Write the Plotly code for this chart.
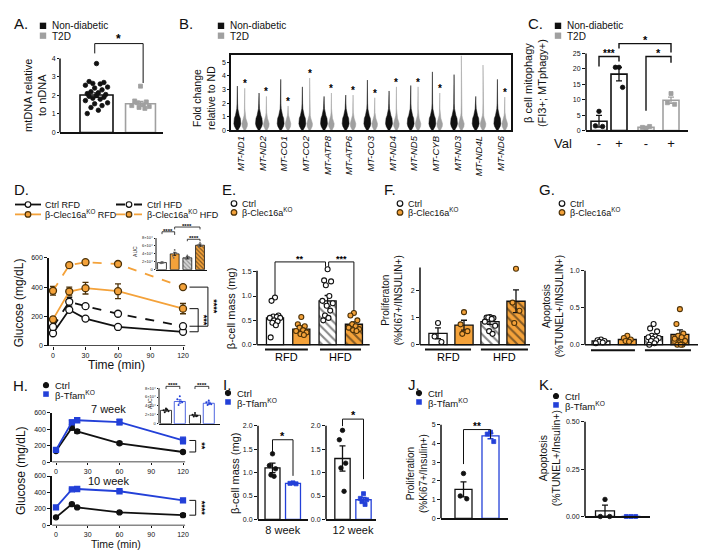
import plotly.graph_objects as go

W, H = 715, 550
FONT = "Liberation Sans, Arial, sans-serif"
BLACK = "#111111"
ORANGE = "#f4a23a"
KO_EDGE = "#4d3208"
GRAY = "#a0a0a0"
BLUE = "#2340d8"

# ================= DATA =================
# A
a_means = [2.02, 1.55]
a_sem = [0.12, 0.13]
a_nd_points = [3.72, 2.75, 2.7, 2.65, 2.62, 2.55, 2.45, 2.4, 2.3, 2.2, 2.15, 2.1, 2.05, 2.0,
               1.95, 1.9, 1.85, 1.8, 1.72, 1.6, 1.55, 1.45, 1.35, 1.2, 1.02]
a_t2d_points = [2.5, 1.7, 1.65, 1.6, 1.5, 1.45, 1.4, 1.35, 1.3]

# B
b_genes = ["MT-ND1", "MT-ND2", "MT-CO1", "MT-CO2", "MT-ATP8", "MT-ATP6", "MT-CO3",
           "MT-ND4", "MT-ND5", "MT-CYB", "MT-ND3", "MT-ND4L", "MT-ND6"]
b_nd_max = [3.26, 2.75, 3.75, 3.2, 2.5, 2.6, 3.7, 2.9, 3.3, 4.3, 4.1, 2.5, 3.75]
b_t2d_max = [3.1, 2.5, 1.8, 3.85, 2.75, 2.6, 2.4, 3.2, 3.2, 2.75, 5.5, 4.8, 2.45]
b_sig = [1, 1, 1, 1, 1, 1, 1, 1, 1, 1, 0, 0, 1]
b_levels = [0, 0.15, 0.3, 0.5, 0.7, 0.9, 1.1, 1.3, 1.6, 2.0]
b_nd_density = [0.15, 0.5, 0.8, 1.0, 1.0, 0.85, 0.55, 0.3, 0.15, 0.08]
b_t2d_density = [0.2, 0.55, 0.9, 1.0, 0.7, 0.4, 0.22, 0.12, 0.07, 0.05]

# C
c_labels = ["-", "+", "-", "+"]
c_means = [3.0, 18.3, 1.0, 9.8]
c_sem = [1.9, 2.2, 0.3, 1.0]
c_points = [[6.2, 1.5, 1.3], [20.5, 20.5, 14.0], [0.7, 1.0, 1.3], [12.0, 9.0, 8.5]]

# D
d_times = [0, 15, 30, 60, 120]
d_ctrl_rfd = [85, 245, 185, 128, 95]
d_ctrl_rfd_sem = [6, 8, 8, 6, 6]
d_ctrl_hfd = [128, 300, 270, 218, 133]
d_ctrl_hfd_sem = [10, 30, 10, 8, 8]
d_ko_rfd = [180, 370, 393, 372, 253]
d_ko_rfd_sem = [15, 30, 40, 50, 35]
d_ko_hfd = [375, 550, 570, 558, 400]
d_ko_hfd_sem = [30, 8, 8, 8, 10]
d_auc = [1.8, 4.0, 3.0, 6.2]          # x10^4
d_auc_sem = [0.15, 0.4, 0.3, 0.3]

# E
e_means = [0.55, 0.32, 0.90, 0.42]
e_sem = [0.05, 0.04, 0.11, 0.05]
e_points = [[0.97, 0.90, 0.6, 0.58, 0.57, 0.55, 0.55, 0.5, 0.48, 0.45, 0.4, 0.15],
            [0.57, 0.42, 0.38, 0.35, 0.3, 0.28, 0.25, 0.22, 0.2],
            [1.55, 1.32, 1.3, 1.22, 1.0, 0.9, 0.85, 0.8, 0.7, 0.6, 0.55, 0.5],
            [0.65, 0.6, 0.5, 0.42, 0.38, 0.35, 0.32, 0.3, 0.28]]

# F
f_means = [0.42, 0.72, 0.85, 1.6]
f_sem = [0.2, 0.18, 0.1, 0.42]
f_points = [[0.8, 0.3, 0.1], [1.2, 0.75, 0.5, 0.4],
            [1.02, 1.0, 0.98, 1.0, 0.95, 0.85, 0.7, 0.5, 0.4], [2.8, 1.55, 1.25, 0.8]]

# G
g_means = [0.05, 0.07, 0.11, 0.14]
g_sem = [0.01, 0.015, 0.025, 0.06]
g_points = [[0.07, 0.06, 0.05, 0.04, 0.03, 0.02], [0.12, 0.09, 0.07, 0.05, 0.04],
            [0.28, 0.22, 0.18, 0.12, 0.11, 0.1, 0.09, 0.08, 0.06, 0.05, 0.02, 0.0],
            [0.48, 0.28, 0.15, 0.12, 0.1, 0.08, 0.05, 0.02, 0.0, 0.0, 0.0]]

# H
h_times = [0, 15, 20, 60, 120]
h_ctrl_7 = [135, 420, 375, 230, 124]
h_ctrl_7_sem = [8, 30, 20, 15, 8]
h_ko_7 = [150, 485, 510, 488, 264]
h_ko_7_sem = [10, 25, 25, 35, 40]
h_ctrl_10 = [98, 258, 218, 158, 124]
h_ctrl_10_sem = [5, 10, 8, 8, 18]
h_ko_10 = [218, 438, 442, 415, 304]
h_ko_10_sem = [20, 10, 8, 10, 20]
h_auc = [3.0, 5.0, 1.9, 4.6]          # x10^4
h_auc_sem = [0.2, 0.4, 0.15, 0.3]

# I
i8_means = [1.1, 0.77]
i8_sem = [0.1, 0.01]
i8_points = [[1.4, 1.15, 1.08, 0.95, 0.92], [0.78, 0.77, 0.76]]
i12_means = [1.3, 0.42]
i12_sem = [0.27, 0.05]
i12_points = [[1.9, 1.7, 1.2, 1.1, 0.6], [0.55, 0.45, 0.42, 0.38, 0.32]]

# J
j_means = [1.55, 4.4]
j_sem = [0.4, 0.15]
j_points = [[2.4, 1.2, 1.05], [4.6, 4.5, 4.1]]

# K
k_means = [0.03, 0.0]
k_sem = [0.03, 0.0]
k_points = [[0.09, 0.0, 0.0], [0.0, 0.0, 0.0]]

# ================= HELPERS =================
fig = go.Figure()
L = {}
shapes = []
annos = []
JIT = [0, -0.6, 0.6, -0.3, 0.3, -0.9, 0.9, -0.15, 0.45, -0.45, 0.15, -0.75, 0.75]


def s(n):
    return "" if n == 1 else str(n)


def setup(n, xpx, xcal, ypx, ycal, xkw=None, ykw=None):
    p0, v0, p1, v1 = xcal
    k = (v1 - v0) / (p1 - p0)
    xr = [v0 + (xpx[0] - p0) * k, v0 + (xpx[1] - p0) * k]
    q0, w0, q1, w1 = ycal
    m = (w1 - w0) / (q1 - q0)
    yr = [w0 + (ypx[0] - q0) * m, w0 + (ypx[1] - q0) * m]
    base = dict(showgrid=False, zeroline=False, showline=False, ticks="", showticklabels=False,
                fixedrange=True, linecolor=BLACK, linewidth=1.5, tickcolor=BLACK,
                ticklen=3, tickwidth=1,
                tickfont=dict(size=7, family=FONT, color=BLACK))
    xa = dict(base, domain=[xpx[0] / W, xpx[1] / W], range=xr, anchor="y" + s(n))
    ya = dict(base, domain=[1 - ypx[0] / H, 1 - ypx[1] / H], range=yr, anchor="x" + s(n))
    xa.update(xkw or {})
    ya.update(ykw or {})
    L["xaxis" + s(n)] = xa
    L["yaxis" + s(n)] = ya


def yticks(vals, text=None, size=7):
    d = dict(ticks="outside", showticklabels=True, tickvals=vals, tickfont=dict(size=size, family=FONT, color=BLACK))
    if text is not None:
        d["ticktext"] = text
    return d


def yline(n, y0, y1, w=1.5):
    shapes.append(dict(type="line", xref="x%s domain" % s(n), x0=0, x1=0, yref="y" + s(n),
                       y0=y0, y1=y1, line=dict(color=BLACK, width=w)))


def xline(n, x0, x1, y=0, w=1.5, color=BLACK):
    shapes.append(dict(type="line", xref="x" + s(n), x0=x0, x1=x1, yref="y" + s(n),
                       y0=y, y1=y, line=dict(color=color, width=w)))


def ax(n):
    return dict(xaxis="x" + s(n), yaxis="y" + s(n))


def bar(n, x, v, e, fill, edge, width, pattern=None, lw=1.3, ecol=BLACK, ew=3, eth=1.3):
    mk = dict(color=fill, line=dict(color=edge, width=lw))
    if pattern:
        mk["pattern"] = pattern
    fig.add_trace(go.Bar(x=[x], y=[v], width=width, marker=mk,
                         error_y=dict(type="data", array=[e], color=ecol, thickness=eth, width=ew),
                         showlegend=False, hoverinfo="skip", **ax(n)))


def pts(n, x, vals, spread, symbol="circle", size=4, fill=BLACK, edge=BLACK, lw=0.8):
    xs = [x + JIT[i % len(JIT)] * spread for i in range(len(vals))]
    fig.add_trace(go.Scatter(x=xs, y=vals, mode="markers",
                             marker=dict(symbol=symbol, size=size, color=fill, line=dict(color=edge, width=lw)),
                             showlegend=False, hoverinfo="skip", cliponaxis=False, **ax(n)))


def bracket(n, xa, xb, y, la, lb, text, fs=9, w=1.0):
    fig.add_trace(go.Scatter(x=[xa, xa, xb, xb], y=[la, y, y, lb], mode="lines",
                             line=dict(color=BLACK, width=w), showlegend=False, hoverinfo="skip", **ax(n)))
    annos.append(dict(x=(xa + xb) / 2, y=y, xref="x" + s(n), yref="y" + s(n), text="<b>%s</b>" % text,
                      showarrow=False, yanchor="bottom", yshift=-4, font=dict(size=fs, family=FONT, color="black")))


def ptext(x, y, text, size, xanchor="left", angle=0, color=BLACK):
    annos.append(dict(x=x / W, y=1 - y / H, xref="paper", yref="paper", text=text, showarrow=False,
                      xanchor=xanchor, yanchor="middle", textangle=angle,
                      font=dict(size=size, family=FONT, color=color)))


def dtext(n, x, y, text, size, angle=0, xanchor="center"):
    annos.append(dict(x=x, y=y, xref="x" + s(n), yref="y" + s(n), text=text, showarrow=False,
                      xanchor=xanchor, yanchor="middle", textangle=angle,
                      font=dict(size=size, family=FONT, color="black")))


def key_sq(x, y, color, a=3.2):
    shapes.append(dict(type="rect", xref="paper", yref="paper", x0=(x - a) / W, x1=(x + a) / W,
                       y0=1 - (y + a) / H, y1=1 - (y - a) / H, fillcolor=color, line=dict(width=0)))


def key_circ(x, y, fill, edge, r=2.8, lw=1.2):
    shapes.append(dict(type="circle", xref="paper", yref="paper", x0=(x - r) / W, x1=(x + r) / W,
                       y0=1 - (y + r) / H, y1=1 - (y - r) / H, fillcolor=fill, line=dict(color=edge, width=lw)))


def key_line(x0, x1, y, color, dash="solid", lw=1.8):
    shapes.append(dict(type="line", xref="paper", yref="paper", x0=x0 / W, x1=x1 / W,
                       y0=1 - y / H, y1=1 - y / H, line=dict(color=color, width=lw, dash=dash)))


def curve(n, t, v, e, color, dash, mfill, medge, symbol="circle", size=7, lw=1.8):
    fig.add_trace(go.Scatter(x=t, y=v, mode="lines+markers",
                             line=dict(color=color, width=lw, dash=dash),
                             marker=dict(symbol=symbol, size=size, color=mfill, line=dict(color=medge, width=1.3)),
                             error_y=dict(type="data", array=e, color=medge, thickness=1.3, width=3),
                             showlegend=False, hoverinfo="skip", cliponaxis=False, **ax(n)))


KO = "β-Clec16a<sup>KO</sup>"
TF = "β-Tfam<sup>KO</sup>"

# ================= A =================
setup(1, (52, 155), (88.5, 0, 132.5, 1), (122, 25), (122, 0, 47, 4),
      xkw=dict(showline=True), ykw=yticks([0, 1, 2, 3, 4]))
L["yaxis"].update(ticklen=2)
yline(1, 0, 4)
bar(1, 0, a_means[0], a_sem[0], "white", BLACK, 0.75, lw=1.6)
bar(1, 1, a_means[1], a_sem[1], "white", GRAY, 0.68, lw=1.6, ecol=GRAY)
pts(1, 0, a_nd_points, 0.28, size=4.5)
pts(1, 1, a_t2d_points, 0.22, symbol="square", size=4, fill=GRAY, edge=GRAY)
bracket(1, -0.04, 1.06, 4.8, 4.27, 2.67, "*", fs=12)
ptext(4, 12, "A.", 15)
key_sq(35, 14, BLACK)
ptext(42, 14, "Non-diabetic", 10)
key_sq(35, 24, GRAY)
ptext(42, 24.5, "T2D", 10)
ptext(27, 85, "mtDNA relative<br>to nDNA", 11, xanchor="center", angle=-90)

# ================= B =================
setup(2, (223, 503), (233, 0, 254.67, 1), (120, 44), (120, 0, 51, 5),
      xkw=dict(showline=True, mirror=True, tickvals=list(range(len(b_genes))),
               ticktext=["<i>%s</i>" % g for g in b_genes], showticklabels=True, tickangle=-90,
               tickfont=dict(size=9.5, family=FONT, color=BLACK)),
      ykw=dict(yticks([0, 1, 2, 3, 4, 5]), showline=True, mirror=True, ticklen=2))
for gi in range(len(b_genes)):
    for off, mx, dens, hw, col in ((-0.17, b_nd_max[gi], b_nd_density, 0.16, BLACK),
                                   (0.17, b_t2d_max[gi], b_t2d_density, 0.13, GRAY)):
        lv = [l for l in b_levels if l < mx] + [mx]
        dv = [dens[i] for i in range(len(lv) - 1)] + [0.02]
        xs = [gi + off - d * hw for d in dv] + [gi + off + d * hw for d in reversed(dv)]
        ys = lv + list(reversed(lv))
        fig.add_trace(go.Scatter(x=xs, y=ys, mode="lines", fill="toself", fillcolor=col,
                                 line=dict(color=col, width=0.5), showlegend=False, hoverinfo="skip", **ax(2)))
    if b_sig[gi]:
        annos.append(dict(x=gi + 0.17, y=b_t2d_max[gi], xref="x2", yref="y2", text="<b>*</b>", showarrow=False,
                          yanchor="bottom", yshift=-3, font=dict(size=10, family=FONT, color="black")))
ptext(169, 12, "B.", 15)
key_sq(213, 14, BLACK)
ptext(220, 14, "Non-diabetic", 10)
key_sq(213, 24, GRAY)
ptext(220, 24.5, "T2D", 10)
ptext(196, 87, "Fold change<br>relative to ND", 10.5, xanchor="center", angle=-90)

# ================= C =================
c_pos = [0, 1, 2.35, 3.6]
setup(3, (578, 680), (591, 0, 611, 1), (120, 18), (120, 0, 42, 25),
      xkw=dict(showline=True, tickvals=c_pos, ticktext=c_labels, showticklabels=True,
               tickfont=dict(size=13, family=FONT, color=BLACK)),
      ykw=yticks([0, 5, 10, 15, 20, 25]))
yline(3, 0, 25)
for i in range(4):
    edge = BLACK if i < 2 else GRAY
    bar(3, c_pos[i], c_means[i], c_sem[i], "white", edge, 0.8, lw=1.6, ecol=edge)
    if i < 2:
        pts(3, c_pos[i], c_points[i], 0.3, size=4.5)
    else:
        pts(3, c_pos[i], c_points[i], 0.3, symbol="square", size=4, fill=GRAY, edge=GRAY)
bracket(3, c_pos[0], c_pos[1], 24, 20.8, 22.4, "***", fs=10, w=1.4)
bracket(3, c_pos[2], c_pos[3], 24, 6.4, 22.0, "*", fs=11, w=1.4)
bracket(3, c_pos[1], c_pos[3], 28.2, 26.6, 25.3, "*", fs=11, w=1.4)
ptext(518, 12, "C.", 15)
key_sq(550, 14, BLACK)
ptext(557, 14, "Non-diabetic", 10)
key_sq(550, 24, GRAY)
ptext(557, 24.5, "T2D", 10)
ptext(544, 133, "Val", 13)
ptext(527, 72, "β cell mitophagy<br>(FI3+; MTphagy+)", 11, xanchor="center", angle=-90)

# ================= D =================
setup(4, (41, 214), (45, 0, 175, 120), (338, 249), (338, 0, 249, 600),
      xkw=dict(yticks([0, 30, 60, 90, 120])),
      ykw=dict(yticks([0, 200, 400, 600]), showline=True))
xline(4, -3.5, 122)
curve(4, d_times, d_ctrl_rfd, d_ctrl_rfd_sem, BLACK, "solid", "white", BLACK)
curve(4, d_times, d_ctrl_hfd, d_ctrl_hfd_sem, BLACK, "dash", "white", BLACK)
curve(4, d_times, d_ko_rfd, d_ko_rfd_sem, ORANGE, "solid", ORANGE, KO_EDGE)
curve(4, d_times, d_ko_hfd, d_ko_hfd_sem, ORANGE, "dash", ORANGE, KO_EDGE)
fig.add_trace(go.Scatter(x=[126, 134, 134, 126], y=[d_ko_rfd[-1], d_ko_rfd[-1], d_ctrl_rfd[-1], d_ctrl_rfd[-1]],
                         mode="lines", line=dict(color=BLACK, width=1), showlegend=False, hoverinfo="skip", **ax(4)))
fig.add_trace(go.Scatter(x=[126, 143, 143, 126], y=[d_ko_hfd[-1], d_ko_hfd[-1], d_ctrl_hfd[-1], d_ctrl_hfd[-1]],
                         mode="lines", line=dict(color=BLACK, width=1), showlegend=False, hoverinfo="skip", **ax(4)))
dtext(4, 139, (d_ko_rfd[-1] + d_ctrl_rfd[-1]) / 2, "<b>***</b>", 9, angle=90)
dtext(4, 149, (d_ko_hfd[-1] + d_ctrl_hfd[-1]) / 2, "<b>****</b>", 9, angle=90)
ptext(4, 180, "D.", 15)
key_line(7, 33, 195, BLACK)
key_circ(20, 195, "white", BLACK)
ptext(35, 195, "Ctrl RFD", 9)
key_line(108, 134, 195, BLACK, dash="dash")
key_circ(121, 195, "white", BLACK)
ptext(137, 195, "Ctrl HFD", 9)
key_line(7, 33, 205, ORANGE)
key_circ(20, 205, ORANGE, KO_EDGE)
ptext(35, 205, KO + " RFD", 9)
key_line(108, 134, 205, ORANGE, dash="dash")
key_circ(121, 205, ORANGE, KO_EDGE)
ptext(137, 205, KO + " HFD", 9)
ptext(108, 358, "Time (min)", 12, xanchor="center")
ptext(11, 295, "Glucose (mg/dL)", 12, xanchor="center", angle=-90)

# D inset (AUC)
setup(5, (148, 199), (154, 0, 166.67, 1), (261, 212), (261, 0, 229, 8),
      ykw=yticks([0, 2, 4, 6, 8], ["0", "2×10⁴", "4×10⁴", "6×10⁴", "8×10⁴"], size=4),
      xkw=dict(showline=True, linewidth=1))
L["yaxis5"].update(ticklen=1.5)
yline(5, 0, 8, w=1)
d_aucp = [[1.9, 1.7, 1.8, 1.6], [5.0, 3.5, 4.2, 3.0], [3.6, 2.8, 3.2], [6.8, 6.3, 6.0, 5.8]]
bar(5, 0, d_auc[0], d_auc_sem[0], "white", BLACK, 0.7, lw=0.8, ew=1.5, eth=0.8)
bar(5, 1, d_auc[1], d_auc_sem[1], ORANGE, BLACK, 0.7, lw=0.8, ew=1.5, eth=0.8)
bar(5, 2, d_auc[2], d_auc_sem[2], "#d6d6d6", BLACK, 0.7, lw=0.8, ew=1.5, eth=0.8,
    pattern=dict(shape="\\", fgcolor="#555555", size=3, solidity=0.4))
bar(5, 3, d_auc[3], d_auc_sem[3], ORANGE, BLACK, 0.7, lw=0.8, ew=1.5, eth=0.8,
    pattern=dict(shape="\\", fgcolor=BLACK, size=3, solidity=0.4))
for i in range(4):
    pts(5, i, d_aucp[i], 0.25, size=1.8, fill="#666666", edge="#666666", lw=0)
bracket(5, 0, 1, 9.6, 9.0, 8.8, "****", fs=6, w=0.8)
bracket(5, 1, 3, 10.8, 10.2, 10.2, "****", fs=6, w=0.8)
bracket(5, 2, 3, 7.7, 7.2, 7.2, "****", fs=6, w=0.8)
ptext(127, 243, "AUC", 5, xanchor="center", angle=-90)

# ================= E =================
e_fill = ["white", ORANGE, "white", ORANGE]
e_pat = [None, None, dict(shape="\\", fgcolor=BLACK, size=6, solidity=0.35),
         dict(shape="\\", fgcolor=BLACK, size=6, solidity=0.35)]
setup(6, (249, 362), (267, 0, 293.3, 1), (350, 245), (337, 0, 263, 1.5), ykw=yticks([0, 0.5, 1.0, 1.5], ["0.0", "0.5", "1.0", "1.5"]))
yline(6, 0, 1.52)
xline(6, -0.68, 3.6)
for i in range(4):
    bar(6, i, e_means[i], e_sem[i], e_fill[i], BLACK, 0.65, pattern=e_pat[i])
    pts(6, i, e_points[i], 0.22, size=5, fill="white" if i % 2 == 0 else ORANGE,
        edge=BLACK if i % 2 == 0 else KO_EDGE, lw=1.1)
bracket(6, 0, 1.92, 1.70, 1.0, 1.6, "**", fs=9)
bracket(6, 2.04, 3.0, 1.70, 1.6, 0.7, "***", fs=9)
xline(6, -0.38, 1.25, y=-0.10, w=2)
xline(6, 1.71, 3.27, y=-0.10, w=2)
dtext(6, 0.45, -0.245, "RFD", 11)
dtext(6, 2.5, -0.245, "HFD", 11)
ptext(212, 180, "E.", 15)
key_circ(226, 194, "white", BLACK)
ptext(232, 194, "Ctrl", 9)
key_circ(226, 203, ORANGE, KO_EDGE)
ptext(232, 203, KO, 9)
ptext(223, 300, "β-cell mass (mg)", 11, xanchor="center", angle=-90)

# ================= F =================
setup(7, (412, 522), (430, 0, 456, 1), (350, 255), (337, 0, 282, 2), ykw=yticks([0, 1, 2]))
yline(7, 0, 2.84)
xline(7, -0.69, 3.54)
for i in range(4):
    bar(7, i, f_means[i], f_sem[i], e_fill[i], BLACK, 0.7, pattern=e_pat[i])
    pts(7, i, f_points[i], 0.22, size=5, fill="white" if i % 2 == 0 else ORANGE,
        edge=BLACK if i % 2 == 0 else KO_EDGE, lw=1.1)
xline(7, -0.5, 1.27, y=-0.18, w=2)
xline(7, 1.65, 3.46, y=-0.18, w=2)
dtext(7, 0.4, -0.44, "RFD", 11)
dtext(7, 2.55, -0.44, "HFD", 11)
ptext(374, 180, "F.", 15)
key_circ(392, 194, "white", BLACK)
ptext(398, 194, "Ctrl", 9)
key_circ(392, 203, ORANGE, KO_EDGE)
ptext(398, 203, KO, 9)
ptext(384, 292, "Proliferaton<br>(%KI67+/INSULIN+)", 10, xanchor="center", angle=-90)

# ================= G =================
setup(8, (577, 690), (593, 0, 619.3, 1), (350, 255), (337, 0, 262, 1.0),
      ykw=yticks([0, 0.5, 1.0], ["0.0", "0.5", "1.0"]))
yline(8, 0, 1.0)
xline(8, -0.61, 3.69)
for i in range(4):
    bar(8, i, g_means[i], g_sem[i], e_fill[i], BLACK, 0.68, pattern=e_pat[i])
    pts(8, i, g_points[i], 0.22, size=5, fill="white" if i % 2 == 0 else ORANGE,
        edge=BLACK if i % 2 == 0 else KO_EDGE, lw=1.1)
xline(8, -0.38, 1.29, y=-0.076, w=2)
xline(8, 1.67, 3.42, y=-0.076, w=2)
dtext(8, 0.45, -0.175, "RFD", 11)
dtext(8, 2.55, -0.175, "HFD", 11)
ptext(529, 180, "G.", 15)
key_circ(554, 194, "white", BLACK)
ptext(560, 194, "Ctrl", 9)
key_circ(554, 203, ORANGE, KO_EDGE)
ptext(560, 203, KO, 9)
ptext(545, 298, "Apoptosis<br>(%TUNEL+/INSULIN+)", 10, xanchor="center", angle=-90)

# ================= H =================
for n, ybot, ytop, ctrl, ctrl_e, ko, ko_e, stars in (
        (9, 456, 406, h_ctrl_7, h_ctrl_7_sem, h_ko_7, h_ko_7_sem, "**"),
        (10, 520, 470, h_ctrl_10, h_ctrl_10_sem, h_ko_10, h_ko_10_sem, "****")):
    setup(n, (44, 200), (48, 0, 175, 120), (ybot, ytop), (ybot, 0, ytop, 600),
          xkw=dict(yticks([0, 30, 60, 90, 120]), ticklen=2),
          ykw=dict(yticks([0, 200, 400, 600]), showline=True))
    xline(n, -3.5, 122)
    curve(n, h_times, ctrl, ctrl_e, BLACK, "solid", BLACK, BLACK, size=5)
    curve(n, h_times, ko, ko_e, BLUE, "solid", BLUE, BLUE, symbol="square", size=5)
    fig.add_trace(go.Scatter(x=[126, 132, 132, 126], y=[ko[-1], ko[-1], ctrl[-1], ctrl[-1]],
                             mode="lines", line=dict(color=BLACK, width=1), showlegend=False,
                             hoverinfo="skip", **ax(n)))
    dtext(n, 138, (ko[-1] + ctrl[-1]) / 2, "<b>%s</b>" % stars, 9, angle=90)
ptext(100, 402, "7 week", 11, xanchor="center")
ptext(100, 475, "10 week", 11, xanchor="center")
ptext(3, 378, "H.", 15)
key_circ(38, 378, BLACK, BLACK, r=2.5)
ptext(45, 378, "Ctrl", 9.5)
key_sq(38, 387, BLUE, a=2.8)
ptext(45, 388, TF, 9.5)
ptext(108, 539, "Time (min)", 10.5, xanchor="center")
ptext(13, 465, "Glucose (mg/dL)", 12, xanchor="center", angle=-90)

# H inset (AUC)
h_pos = [0, 1, 2.1, 3.1]
setup(11, (151, 212), (158, 0, 171.8, 1), (417, 376), (417, 0, 381, 8),
      ykw=yticks([0, 2, 4, 6, 8], ["0", "2×10⁴", "4×10⁴", "6×10⁴", "8×10⁴"], size=4),
      xkw=dict(showline=True, linewidth=1))
L["yaxis11"].update(ticklen=1.5)
yline(11, 0, 8, w=1)
h_aucp = [[3.4, 3.0, 2.8, 2.6, 3.2], [6.2, 5.5, 4.8, 4.2, 5.0], [2.4, 2.0, 1.8, 1.6, 1.7], [5.2, 4.8, 4.4, 4.2, 4.6]]
for i in range(4):
    edge = BLACK if i % 2 == 0 else BLUE
    bar(11, h_pos[i], h_auc[i], h_auc_sem[i], "white", edge, 0.8, lw=0.8, ecol=edge, ew=1.5, eth=0.8)
    pts(11, h_pos[i], h_aucp[i], 0.3, size=2, fill=edge, edge=edge, lw=0)
bracket(11, h_pos[0], h_pos[1], 8.4, 7.8, 7.8, "****", fs=6, w=0.8)
bracket(11, h_pos[2], h_pos[3], 8.4, 7.8, 7.8, "****", fs=6, w=0.8)
ptext(142, 397, "AUC", 5, xanchor="center", angle=-90)

# ================= I =================
for n, xl, c0, c1, means, sem, points, lab, by, la, lb in (
        (12, 250, 264.5, 285, i8_means, i8_sem, i8_points, "8 week", 1.70, 1.42, 0.93),
        (13, 318, 334.5, 355.5, i12_means, i12_sem, i12_points, "12 week", 2.14, 1.99, 0.86)):
    setup(n, (xl, xl + 50), (c0, 0, c1, 1), (514, 405), (514, 0, 419, 2.0),
          xkw=dict(showline=True, tickvals=[0.5], ticktext=[lab], showticklabels=True,
                   tickfont=dict(size=11, family=FONT, color=BLACK)),
          ykw=yticks([0, 0.5, 1.0, 1.5, 2.0], ["0.0", "0.5", "1.0", "1.5", "2.0"]))
    yline(n, 0, 2.0)
    bar(n, 0, means[0], sem[0], "white", BLACK, 0.73)
    bar(n, 1, means[1], sem[1], "white", BLUE, 0.73, ecol=BLUE)
    pts(n, 0, points[0], 0.25, size=4.5)
    pts(n, 1, points[1], 0.25, symbol="square", size=4, fill=BLUE, edge=BLUE)
    bracket(n, 0, 1, by, la, lb, "*", fs=11)
ptext(213, 377, "I.", 15)
key_circ(220, 386, BLACK, BLACK, r=2.5)
ptext(227, 386, "Ctrl", 9.5)
key_sq(220, 395, BLUE, a=2.8)
ptext(227, 396, TF, 9.5)
ptext(227, 467, "β-cell mass (mg)", 11, xanchor="center", angle=-90)

# ================= J =================
setup(14, (433, 500), (455.5, 0, 482.5, 1), (513, 412), (513, 0, 418, 5),
      xkw=dict(showline=True), ykw=yticks([0, 1, 2, 3, 4, 5]))
yline(14, 0, 5)
bar(14, 0, j_means[0], j_sem[0], "white", BLACK, 0.63)
bar(14, 1, j_means[1], j_sem[1], "white", BLUE, 0.63, ecol=BLUE)
pts(14, 0, j_points[0], 0.2, size=4.5)
pts(14, 1, j_points[1], 0.2, symbol="square", size=4, fill=BLUE, edge=BLUE)
bracket(14, 0, 1, 4.74, 2.9, 4.25, "**", fs=10)
ptext(398, 377, "J.", 15)
key_circ(411, 386, BLACK, BLACK, r=2.5)
ptext(418, 386, "Ctrl", 9.5)
key_sq(411, 395, BLUE, a=2.8)
ptext(418, 396, TF, 9.5)
ptext(409, 468, "Proliferation<br>(%Ki67+/Insulin+)", 10, xanchor="center", angle=-90)

# ================= K =================
setup(15, (577, 642), (597, 0, 623, 1), (511, 412), (511, 0, 415, 0.5),
      xkw=dict(showline=True), ykw=yticks([0, 0.25, 0.5], ["0.00", "0.25", "0.50"]))
yline(15, 0, 0.5)
bar(15, 0, k_means[0], k_sem[0], "white", BLACK, 0.73)
bar(15, 1, k_means[1], k_sem[1], "white", BLUE, 0.73, ecol=BLUE)
pts(15, 0, k_points[0], 0.3, size=4.5)
pts(15, 1, k_points[1], 0.3, symbol="square", size=4, fill=BLUE, edge=BLUE)
ptext(529, 377, "K.", 15)
key_circ(548, 389, BLACK, BLACK, r=2.5)
ptext(555, 389, "Ctrl", 9.5)
key_sq(548, 398, BLUE, a=2.8)
ptext(555, 399, TF, 9.5)
ptext(542, 452, "Apoptosis<br>(%TUNEL+/Insulin+)", 10.5, xanchor="center", angle=-90)

fig.update_layout(width=W, height=H, margin=dict(l=0, r=0, t=0, b=0), paper_bgcolor="white",
                  plot_bgcolor="rgba(0,0,0,0)", showlegend=False, barmode="overlay",
                  font=dict(family=FONT, color=BLACK), shapes=shapes, annotations=annos, **L)
fig.write_html("out.html")
